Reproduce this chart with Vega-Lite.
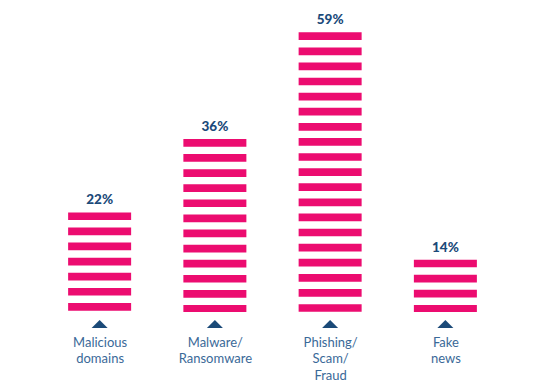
{
  "$schema": "https://vega.github.io/schema/vega-lite/v6.json",
  "width": 461,
  "height": 300,
  "autosize": {"type": "none"},
  "padding": {"left": 42, "top": 12, "right": 57, "bottom": 75},
  "background": "white",
  "config": {"view": {"stroke": null}},
  "data": {
    "values": [
      {"category": "Malicious domains", "value": 0.22},
      {"category": "Malware/ Ransomware", "value": 0.36},
      {"category": "Phishing/ Scam/ Fraud", "value": 0.59},
      {"category": "Fake news", "value": 0.14}
    ]
  },
  "encoding": {
    "x": {
      "field": "category",
      "type": "nominal",
      "sort": null,
      "scale": {"type": "point", "padding": 0.5},
      "axis": {
        "title": null,
        "domain": false,
        "ticks": false,
        "tickSize": 0,
        "labelAngle": 0,
        "labelPadding": 24,
        "labelFont": "Lato",
        "labelFontSize": 13,
        "labelColor": "#3a6998",
        "labelLineHeight": 16.7,
        "labelExpr": "split(datum.label, ' ')"
      }
    }
  },
  "layer": [
    {
      "mark": {"type": "rule", "color": "#ec0c70", "strokeWidth": 63, "strokeDash": [7.7, 7.4], "strokeCap": "butt"},
      "encoding": {
        "y": {
          "field": "value",
          "type": "quantitative",
          "scale": {"type": "pow", "exponent": 0.75, "domain": [0.06354, 0.63695], "zero": false, "nice": false},
          "axis": null
        },
        "y2": {"datum": 0.06354}
      }
    },
    {
      "mark": {"type": "text", "font": "Lato", "fontWeight": 900, "fontSize": 13.5, "color": "#1b4a7a", "baseline": "alphabetic", "dy": -8},
      "encoding": {
        "y": {"field": "value", "type": "quantitative", "axis": null},
        "text": {"field": "value", "type": "quantitative", "format": ".0%"}
      }
    },
    {
      "mark": {"type": "point", "shape": "M-1,0.5L1,0.5L0,-0.5Z", "filled": true, "size": 256, "color": "#1b4a78", "opacity": 1, "yOffset": 12},
      "encoding": {
        "y": {"datum": 0.06354, "type": "quantitative", "axis": null}
      }
    }
  ]
}
